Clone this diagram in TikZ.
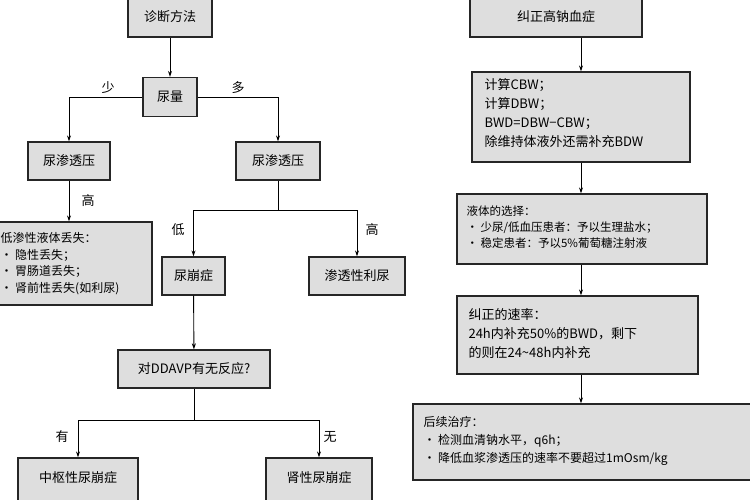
\documentclass[tikz,border=0pt]{standalone}
\usepackage{fontspec}
\setmainfont{Noto Sans CJK SC}
\usetikzlibrary{arrows.meta}
\begin{document}
\begin{tikzpicture}[x=1pt,y=-1pt,
 bx/.style={draw=black!85,line width=1.3pt,fill=black!13,inner sep=0pt},
 ar/.style={-{Stealth[length=6pt,width=4pt]},line width=0.9pt},
 ln/.style={line width=0.9pt},
 lb/.style={font=\fontsize{13}{15}\selectfont},
 tx/.style={font=\fontsize{13}{19}\selectfont,align=left,anchor=north west}]
\useasboundingbox (0,0) rectangle (750,500);
\fill[white] (0,0) rectangle (750,500);
\node[bx,minimum width=84pt,minimum height=42pt] (zd) at (170,16) {};
\node[lb] at (170,17) {诊断方法};
\node[bx,minimum width=54pt,minimum height=39pt,lb] (nl) at (170,97) {尿量};
\node[bx,minimum width=82pt,minimum height=38pt,lb] (s1) at (69,161) {尿渗透压};
\node[bx,minimum width=84pt,minimum height=38pt,lb] (s2) at (278,161) {尿渗透压};
\node[bx,minimum width=157pt,minimum height=83pt] (dx) at (73.5,263.5) {};
\node[tx,font=\fontsize{12}{16.5}\selectfont] at (-3,229) {低渗性液体丢失：\\• 隐性丢失；\\• 胃肠道丢失；\\• 肾前性丢失(如利尿)};
\node[bx,minimum width=63pt,minimum height=38pt,lb] (nb) at (193.5,276) {尿崩症};
\node[bx,minimum width=96pt,minimum height=38pt,lb] (st) at (357,276) {渗透性利尿};
\node[bx,minimum width=152pt,minimum height=38pt,lb] (dd) at (194,369) {对DDAVP有无反应?};
\node[bx,minimum width=120pt,minimum height=46pt] (zs) at (78,481) {};
\node[lb] at (78,478) {中枢性尿崩症};
\node[bx,minimum width=106pt,minimum height=46pt] (ss) at (319,481) {};
\node[lb] at (319,478) {肾性尿崩症};
\draw[ar] (zd) -- (nl);
\draw[ar] (nl.west) -| (s1.north);
\draw[ar] (nl.east) -| (s2.north);
\node[lb] at (108,88) {少};
\node[lb] at (238,88) {多};
\draw[ar] (s1) -- (dx.north -| s1);
\node[lb] at (88,201) {高};
\coordinate (j1) at (278,210);
\draw[ln] (s2) -- (j1);
\draw[ar] (j1) -| (nb.north);
\draw[ar] (j1) -| (st.north);
\node[lb] at (178,230) {低};
\node[lb] at (372,230) {高};
\draw[ar] (nb) -- (dd);
\coordinate (j2) at (194,420);
\draw[ln] (dd) -- (j2);
\draw[ar] (j2) -| (zs.north);
\draw[ar] (j2) -| (ss.north);
\node[lb] at (62,437) {有};
\node[lb] at (330,437) {无};
% right
\node[bx,minimum width=172pt,minimum height=42pt] (jz) at (556,16) {};
\node[lb] at (556,17) {纠正高钠血症};
\node[bx,minimum width=218pt,minimum height=90pt] (cb) at (581,117) {};
\node[tx] at (481,75) {计算CBW；\\计算DBW；\\BWD=DBW−CBW；\\除维持体液外还需补充BDW};
\node[bx,minimum width=250pt,minimum height=70pt] (yt) at (582,229) {};
\node[tx,font=\fontsize{11.5}{16}\selectfont] at (463,202) {液体的选择：\\• 少尿/低血压患者：予以生理盐水；\\• 稳定患者：予以5\%葡萄糖注射液};
\node[bx,minimum width=241pt,minimum height=78pt] (sl) at (577.5,335) {};
\node[tx] at (465,305) {纠正的速率：\\24h内补充50\%的BWD，剩下\\的则在24\textasciitilde48h内补充};
\node[bx,minimum width=345pt,minimum height=76pt] (hx) at (585.5,442) {};
\node[tx,font=\fontsize{12}{18}\selectfont] at (420,413) {后续治疗：\\• 检测血清钠水平，q6h；\\• 降低血浆渗透压的速率不要超过1mOsm/kg};
\draw[ar] (jz.south -| cb.north) -- (cb.north);
\draw[ar] (cb.south) -- (yt.north -| cb.south);
\draw[ar] (yt.south -| cb.south) -- (sl.north -| cb.south);
\draw[ar] (sl.south -| cb.south) -- (hx.north -| cb.south);
\end{tikzpicture}
\end{document}
